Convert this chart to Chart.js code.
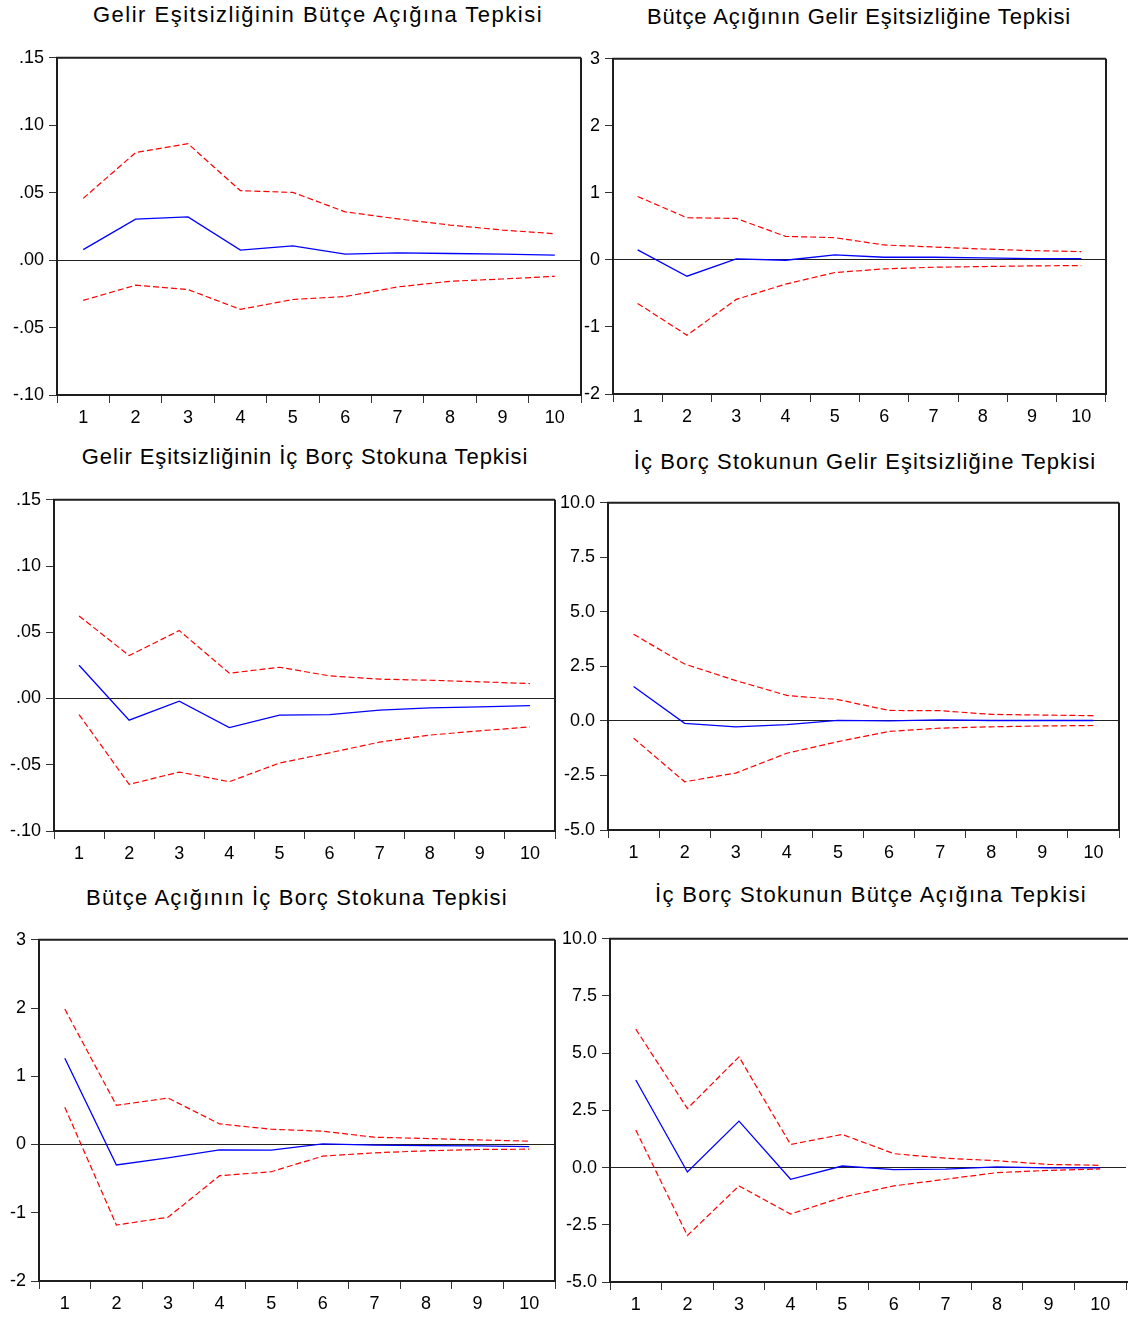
<!DOCTYPE html>
<html><head><meta charset="utf-8">
<script src="https://cdn.jsdelivr.net/npm/chart.js@4.4.1/dist/chart.umd.min.js"></script>
<style>
html,body{margin:0;padding:0;background:#fff;}
body{width:1128px;height:1320px;position:relative;overflow:hidden;font-family:"Liberation Sans",Arial,sans-serif;}
.t{position:absolute;width:700px;text-align:center;font-size:22px;color:#000;line-height:26px;white-space:nowrap;}
canvas{position:absolute;}
</style></head><body>
<script>
// ---------- DATA ----------
const periods = ['1','2','3','4','5','6','7','8','9','10'];

const titles = [
  'Gelir Eşitsizliğinin Bütçe Açığına Tepkisi',
  'Bütçe Açığının Gelir Eşitsizliğine Tepkisi',
  'Gelir Eşitsizliğinin İç Borç Stokuna Tepkisi',
  'İç Borç Stokunun Gelir Eşitsizliğine Tepkisi',
  'Bütçe Açığının İç Borç Stokuna Tepkisi',
  'İç Borç Stokunun Bütçe Açığına Tepkisi'
];

const p1Response = [0.0078,0.0304,0.0320,0.0074,0.0105,0.0044,0.0054,0.0049,0.0044,0.0037];
const p1Upper    = [0.0458,0.0797,0.0863,0.0515,0.0502,0.0358,0.0306,0.0260,0.0223,0.0196];
const p1Lower    = [-0.0299,-0.0186,-0.0218,-0.0365,-0.0292,-0.0270,-0.0199,-0.0157,-0.0140,-0.0120];

const p2Response = [0.149,-0.243,0.015,-0.005,0.074,0.040,0.040,0.030,0.020,0.020];
const p2Upper    = [0.946,0.629,0.619,0.351,0.332,0.223,0.193,0.163,0.139,0.124];
const p2Lower    = [-0.649,-1.124,-0.589,-0.361,-0.188,-0.134,-0.109,-0.099,-0.089,-0.084];

const p3Response = [0.0251,-0.0163,-0.0020,-0.0219,-0.0126,-0.0121,-0.0088,-0.0070,-0.0063,-0.0053];
const p3Upper    = [0.0623,0.0324,0.0513,0.0191,0.0236,0.0171,0.0146,0.0138,0.0126,0.0113];
const p3Lower    = [-0.0121,-0.0648,-0.0555,-0.0628,-0.0487,-0.0410,-0.0329,-0.0276,-0.0244,-0.0214];

const p4Response = [1.58,-0.11,-0.27,-0.17,0.03,0.00,0.05,0.02,0.02,0.02];
const p4Upper    = [3.97,2.61,1.85,1.17,0.98,0.48,0.47,0.30,0.27,0.24];
const p4Lower    = [-0.79,-2.79,-2.39,-1.48,-0.95,-0.48,-0.33,-0.27,-0.23,-0.21];

const p5Response = [1.265,-0.300,-0.195,-0.078,-0.083,0.010,-0.010,-0.015,-0.020,-0.030];
const p5Upper    = [1.985,0.574,0.681,0.302,0.224,0.195,0.107,0.088,0.068,0.049];
const p5Lower    = [0.545,-1.180,-1.066,-0.457,-0.399,-0.170,-0.122,-0.092,-0.073,-0.068];

const p6Response = [3.83,-0.19,2.03,-0.51,0.07,-0.09,-0.07,0.03,-0.01,-0.01];
const p6Upper    = [6.05,2.58,4.84,1.01,1.45,0.61,0.41,0.30,0.14,0.10];
const p6Lower    = [1.64,-2.97,-0.80,-2.03,-1.30,-0.80,-0.51,-0.22,-0.12,-0.06];

// tick values and labels
const smallTickValues = [-0.10,-0.05,0,0.05,0.10,0.15];
const smallTickLabels = ['-.10','-.05','.00','.05','.10','.15'];
const unitTickValues  = [-2,-1,0,1,2,3];
const unitTickLabels  = ['-2','-1','0','1','2','3'];
const bigTickValues   = [-5,-2.5,0,2.5,5,7.5,10];
const bigTickLabels   = ['-5.0','-2.5','0.0','2.5','5.0','7.5','10.0'];

// ---------- LAYOUT ----------
const frames = [
  {L:57, T:56, R:581, B:395, right:true},
  {L:613,T:57, R:1106,B:394, right:true},
  {L:54, T:498,R:555, B:831, right:true},
  {L:608,T:501,R:1119,B:830, right:true},
  {L:39, T:938,R:555, B:1281,right:true},
  {L:610,T:937,R:1126,B:1282,right:false}
];
const titleCenters = [[318,15],[859,17],[305,457],[865,462],[297,898],[871,895]];
const titleSpacing = [1.5,0.85,0.9,1.1,1.2,1.3];
const FONT = '"Liberation Sans", Arial, sans-serif';

titles.forEach((t,i)=>{
  const d=document.createElement('div');
  d.className='t'; d.textContent=t;
  d.style.letterSpacing=titleSpacing[i]+'px';
  d.style.left=(titleCenters[i][0]-350)+'px';
  d.style.top=(titleCenters[i][1]-13)+'px';
  document.body.appendChild(d);
});

function makePanel(i, resp, up, lo, yVals, yLabels){
  const f = frames[i];
  const padL = 70, padT = 14, padR = 6, padB = 38;
  const w = padL + (f.R-f.L) + padR, h = padT + (f.B-f.T) + padB;
  const cv = document.createElement('canvas');
  cv.width = w; cv.height = h;
  cv.style.left = (f.L-padL)+'px'; cv.style.top = (f.T-padT)+'px';
  cv.style.width = w+'px'; cv.style.height = h+'px';
  document.body.appendChild(cv);
  const framePlugin = {
    id:'frame'+i,
    afterDatasetsDraw(chart){
      const a=chart.chartArea, ctx=chart.ctx;
      ctx.save();
      ctx.strokeStyle='#1e1e1e'; ctx.lineWidth=2;
      ctx.beginPath();
      ctx.moveTo(a.right + (f.right?0:10), a.top);
      ctx.lineTo(a.left, a.top);
      ctx.lineTo(a.left, a.bottom);
      ctx.lineTo(a.right + (f.right?0:10), a.bottom);
      if (f.right) ctx.lineTo(a.right, a.top);
      ctx.stroke();
      ctx.restore();
    }
  };
  new Chart(cv, {
    type:'line',
    data:{labels:periods, datasets:[
      {data:up, borderColor:'#ff0000', borderDash:[6,3], borderWidth:1.2, pointRadius:0, tension:0, fill:false},
      {data:lo, borderColor:'#ff0000', borderDash:[6,3], borderWidth:1.2, pointRadius:0, tension:0, fill:false},
      {data:resp, borderColor:'#0000ff', borderWidth:1.3, pointRadius:0, tension:0, fill:false}
    ]},
    options:{
      responsive:false, animation:false, devicePixelRatio:1,
      layout:{padding:{left:0, top:padT, right:padR, bottom:0}},
      plugins:{legend:{display:false}, tooltip:{enabled:false}, title:{display:false}},
      scales:{
        x:{
          type:'category', offset:true,
          grid:{offset:true, drawOnChartArea:false, drawTicks:true, tickLength:8, color:'#333', lineWidth:1},
          border:{display:false},
          ticks:{color:'#000', font:{family:FONT, size:18}, padding:4, maxRotation:0, autoSkip:false},
          afterFit(s){ s.height = padB; }
        },
        y:{
          type:'linear', min:yVals[0], max:yVals[yVals.length-1],
          afterBuildTicks(s){ s.ticks = yVals.map(v=>({value:v})); },
          grid:{
            color:c=>(c.tick && Math.abs(c.tick.value)<1e-9)?'#222':'rgba(0,0,0,0)',
            tickColor:'#333', tickLength:8, drawTicks:true, lineWidth:1
          },
          border:{display:false},
          ticks:{callback:(v,idx)=>yLabels[idx], color:'#000', font:{family:FONT, size:18}, padding:5},
          afterFit(s){ s.width = padL; }
        }
      }
    },
    plugins:[framePlugin]
  });
}

makePanel(0, p1Response, p1Upper, p1Lower, smallTickValues, smallTickLabels);
makePanel(1, p2Response, p2Upper, p2Lower, unitTickValues, unitTickLabels);
makePanel(2, p3Response, p3Upper, p3Lower, smallTickValues, smallTickLabels);
makePanel(3, p4Response, p4Upper, p4Lower, bigTickValues, bigTickLabels);
makePanel(4, p5Response, p5Upper, p5Lower, unitTickValues, unitTickLabels);
makePanel(5, p6Response, p6Upper, p6Lower, bigTickValues, bigTickLabels);
</script>
</body></html>
